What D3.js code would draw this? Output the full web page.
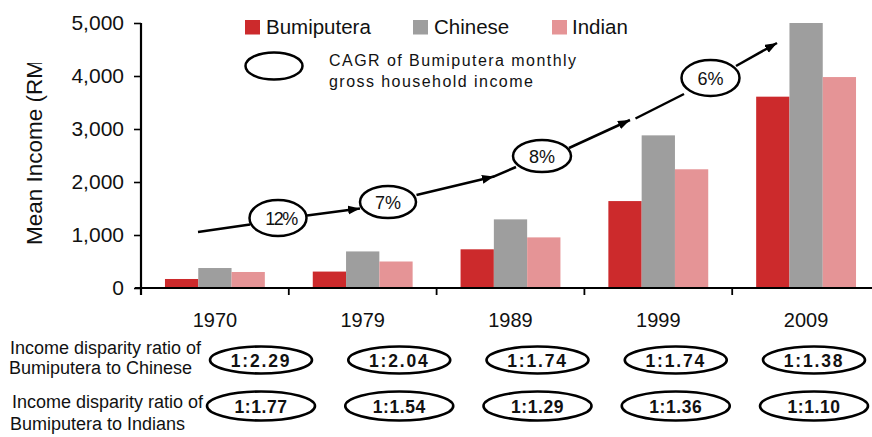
<!DOCTYPE html>
<html>
<head>
<meta charset="utf-8">
<script src="https://cdn.jsdelivr.net/npm/d3@7"></script>
<style>
  html, body { margin: 0; padding: 0; background: #fff; }
  svg { display: block; font-family: "Liberation Sans", Arial, sans-serif; }
</style>
</head>
<body>
<svg id="chart" width="872" height="437"></svg>
<script>
// Mean monthly gross household income by ethnic group (RM)
const years = ["1970", "1979", "1989", "1999", "2009"];
const series = ["Bumiputera", "Chinese", "Indian"];
const bumiputera = [170, 310, 730, 1640, 3610];
const chinese = [377, 690, 1295, 2880, 5000];
const indian = [302, 500, 955, 2240, 3980];
const yTicks = [0, 1000, 2000, 3000, 4000, 5000];

// CAGR of Bumiputera income between survey years
const cagrLabels = ["12%", "7%", "8%", "6%"];

// Income disparity ratios per year
const ratioChinese = ["1:2.29", "1:2.04", "1:1.74", "1:1.74", "1:1.38"];
const ratioIndian = ["1:1.77", "1:1.54", "1:1.29", "1:1.36", "1:1.10"];

const colors = { Bumiputera: "#cc2a2c", Chinese: "#9e9e9e", Indian: "#e59496" };

const svg = d3.select("#chart");
const W = 872;
const axisX = 141, baseY = 288, topY = 23;

const x = d3.scaleBand().domain(years).range([axisX, 880]).paddingInner(0).paddingOuter(0);
const xSub = d3.scaleBand().domain(series).range([0, x.bandwidth()]).paddingInner(0).paddingOuter(0.72);
const y = d3.scaleLinear().domain([0, 5000]).range([baseY, topY]);

const table = years.map((yr, i) => ({
  year: yr,
  values: [
    { key: "Bumiputera", value: bumiputera[i] },
    { key: "Chinese", value: chinese[i] },
    { key: "Indian", value: indian[i] }
  ]
}));

// bars
const groups = svg.append("g").selectAll("g").data(table).join("g")
  .attr("transform", d => `translate(${x(d.year)},0)`);
groups.selectAll("rect").data(d => d.values).join("rect")
  .attr("x", d => xSub(d.key))
  .attr("width", xSub.bandwidth())
  .attr("y", d => y(d.value))
  .attr("height", d => y(0) - y(d.value))
  .attr("fill", d => colors[d.key]);

// y axis
const yAxis = svg.append("g").attr("transform", `translate(${axisX},0)`)
  .call(d3.axisLeft(y).tickValues(yTicks).tickFormat(d3.format(",")).tickSize(7).tickSizeOuter(0).tickPadding(10));
yAxis.select(".domain").remove();
yAxis.selectAll(".tick line").attr("stroke", "#000").attr("stroke-width", 1.6);
yAxis.selectAll(".tick text").attr("font-size", 21).attr("fill", "#111").attr("font-family", "Liberation Sans, Arial, sans-serif");
svg.append("line").attr("x1", axisX).attr("x2", axisX).attr("y1", y(5000)).attr("y2", baseY + 7)
  .attr("stroke", "#000").attr("stroke-width", 2.2);

// x axis
const xAxis = svg.append("g").attr("transform", `translate(0,${baseY})`)
  .call(d3.axisBottom(x).tickSize(0).tickPadding(24.5));
xAxis.select(".domain").remove();
xAxis.selectAll(".tick text").attr("font-size", 20).attr("fill", "#111").attr("font-family", "Liberation Sans, Arial, sans-serif");
svg.append("line").attr("x1", axisX - 6).attr("x2", W).attr("y1", baseY).attr("y2", baseY)
  .attr("stroke", "#000").attr("stroke-width", 2.2);
const bounds = years.map(d => x(d)).concat([x.range()[1]]);
svg.append("g").selectAll("line").data(bounds).join("line")
  .attr("x1", d => d).attr("x2", d => d).attr("y1", baseY).attr("y2", baseY + 7)
  .attr("stroke", "#000").attr("stroke-width", 1.8);

// y axis title, clipped at the top edge of the plot
svg.append("clipPath").attr("id", "ytitle-clip")
  .append("rect").attr("x", 0).attr("y", 63).attr("width", 130).attr("height", 300);
svg.append("g")
  .attr("clip-path", "url(#ytitle-clip)")
  .append("text")
  .attr("transform", "translate(42,245) rotate(-90)")
  .attr("font-size", 22.5).attr("fill", "#111")
  .text("Mean Income (RM)");

// legend
const legendItems = [
  { key: "Bumiputera", sx: 245, tx: 266 },
  { key: "Chinese", sx: 413, tx: 434 },
  { key: "Indian", sx: 552, tx: 572 }
];
const lg = svg.append("g");
lg.selectAll("rect").data(legendItems).join("rect")
  .attr("x", d => d.sx).attr("y", 20).attr("width", 15).attr("height", 14.5)
  .attr("fill", d => colors[d.key]);
lg.selectAll("text").data(legendItems).join("text")
  .attr("x", d => d.tx).attr("y", 33.5).attr("font-size", 20.5).attr("fill", "#111")
  .text(d => d.key);
lg.append("ellipse").attr("cx", 274).attr("cy", 66).attr("rx", 28.5).attr("ry", 13.5)
  .attr("fill", "none").attr("stroke", "#000").attr("stroke-width", 2.5);
lg.append("text").attr("x", 329).attr("y", 65.5).attr("font-size", 16).attr("letter-spacing", 1.45)
  .attr("fill", "#111").text("CAGR of Bumiputera monthly");
lg.append("text").attr("x", 329).attr("y", 86.5).attr("font-size", 16).attr("letter-spacing", 1.45)
  .attr("fill", "#111").text("gross household income");

// CAGR path with growth-rate bubbles
const defs = svg.append("defs");
defs.append("marker").attr("id", "arrow").attr("markerUnits", "userSpaceOnUse")
  .attr("markerWidth", 13).attr("markerHeight", 10).attr("refX", 12).attr("refY", 4.5)
  .attr("orient", "auto")
  .append("path").attr("d", "M0,0 L12,4.5 L0,9 Z").attr("fill", "#000");

const cagrBubbles = [
  { cx: 278, cy: 218, rx: 28.5, ry: 18, dx: 3, ls: -1.5 },
  { cx: 388, cy: 202, rx: 28, ry: 16, dx: 0, ls: 0 },
  { cx: 542, cy: 156, rx: 29, ry: 16, dx: 0, ls: 0 },
  { cx: 710.5, cy: 78, rx: 29, ry: 18, dx: 0, ls: 0 }
];
const cagrSegments = [
  { p: [[198, 232], [250, 224.5]], arrow: false },
  { p: [[307, 215.5], [360, 208.5]], arrow: true },
  { p: [[416.5, 195], [494, 176.5]], arrow: true },
  { p: [[493, 176.8], [516, 167]], arrow: false },
  { p: [[569, 148], [630, 120]], arrow: true },
  { p: [[635.5, 118.5], [684, 94]], arrow: false },
  { p: [[736, 66], [777, 43]], arrow: true }
];
const cg = svg.append("g");
cg.selectAll("line").data(cagrSegments).join("line")
  .attr("x1", d => d.p[0][0]).attr("y1", d => d.p[0][1])
  .attr("x2", d => d.p[1][0]).attr("y2", d => d.p[1][1])
  .attr("stroke", "#000").attr("stroke-width", 2.5)
  .attr("marker-end", d => d.arrow ? "url(#arrow)" : null);
cg.selectAll("ellipse").data(cagrBubbles).join("ellipse")
  .attr("cx", d => d.cx).attr("cy", d => d.cy).attr("rx", d => d.rx).attr("ry", d => d.ry)
  .attr("fill", "#fff").attr("stroke", "#000").attr("stroke-width", 2.5);
cg.selectAll("text").data(cagrBubbles).join("text")
  .attr("x", d => d.cx + d.dx).attr("y", d => d.cy + 6.5)
  .attr("text-anchor", "middle").attr("font-size", 18).attr("letter-spacing", d => d.ls)
  .attr("fill", "#111").text((d, i) => cagrLabels[i]);

// disparity ratio rows
const xr = d3.scalePoint().domain(years).range([261, 814]);
const rows = [
  { labels: ratioChinese, cy: 360, rx: 51, ry: 13.5, ls: 1.8,
    lines: [{ t: "Income disparity ratio of", x: 10, y: 354 }, { t: "Bumiputera to Chinese", x: 9, y: 374 }] },
  { labels: ratioIndian, cy: 406, rx: 54, ry: 14.5, ls: 0.6,
    lines: [{ t: "Income disparity ratio of", x: 12, y: 408 }, { t: "Bumiputera to Indians", x: 10, y: 430 }] }
];
rows.forEach(row => {
  const g = svg.append("g");
  g.selectAll("text.lab").data(row.lines).join("text").attr("class", "lab")
    .attr("x", d => d.x).attr("y", d => d.y).attr("font-size", 18).attr("fill", "#111")
    .text(d => d.t);
  g.selectAll("ellipse").data(years).join("ellipse")
    .attr("cx", d => xr(d)).attr("cy", row.cy).attr("rx", row.rx).attr("ry", row.ry)
    .attr("fill", "#fff").attr("stroke", "#000").attr("stroke-width", 2.6);
  g.selectAll("text.val").data(years).join("text").attr("class", "val")
    .attr("x", d => xr(d)).attr("y", row.cy + 6.5).attr("text-anchor", "middle")
    .attr("font-size", 17.5).attr("font-weight", "bold").attr("letter-spacing", row.ls)
    .attr("fill", "#111").text((d, i) => row.labels[i]);
});
</script>
</body>
</html>
